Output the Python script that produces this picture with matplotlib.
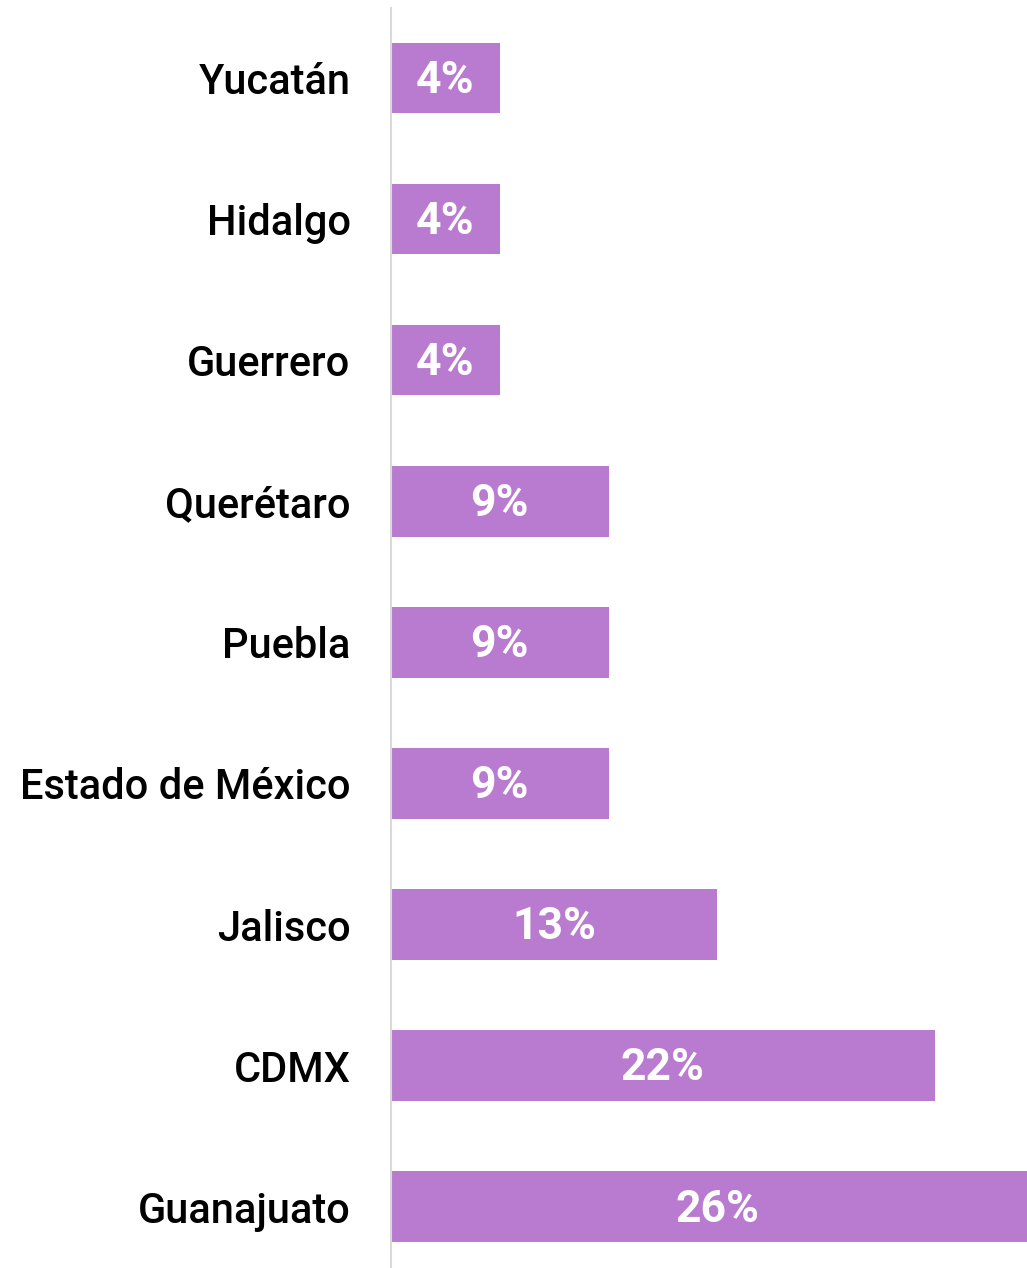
import matplotlib
matplotlib.use("Agg")
import matplotlib.pyplot as plt

categories = ["Yucatán", "Hidalgo", "Guerrero", "Querétaro", "Puebla",
              "Estado de México", "Jalisco", "CDMX", "Guanajuato"]
values = [4.35, 4.35, 4.35, 8.70, 8.70, 8.70, 13.04, 21.74, 26.09]
labels = ["4%", "4%", "4%", "9%", "9%", "9%", "13%", "22%", "26%"]

fig = plt.figure(figsize=(10.27, 12.68), dpi=100)
ax = fig.add_axes([391/1027, 0, 1 - 391/1027, 1 - 8/1268])

pos = list(range(len(categories)))
ax.barh(pos, values, height=0.5, color="#B87BD0")
for p, v, lab in zip(pos, values, labels):
    ax.text(v / 2, p + 0.02, lab, ha="center", va="center", color="white",
            fontsize=32, fontweight="bold", family=["Roboto", "DejaVu Sans"])

ax.set_xlim(0, (1027 - 391) / 25.0)
ax.set_ylim(8.434, -0.496)
ax.set_yticks(pos)
ax.set_yticklabels(categories, fontsize=30, fontweight="medium",
                   family=["Roboto", "DejaVu Sans"])
ax.tick_params(axis="y", length=0, pad=29)
ax.set_xticks([])
for s in ["top", "right", "bottom"]:
    ax.spines[s].set_visible(False)
ax.spines["left"].set_color("#d9d9d9")
ax.spines["left"].set_linewidth(1.5)

fig.savefig("out.png", dpi=100)
